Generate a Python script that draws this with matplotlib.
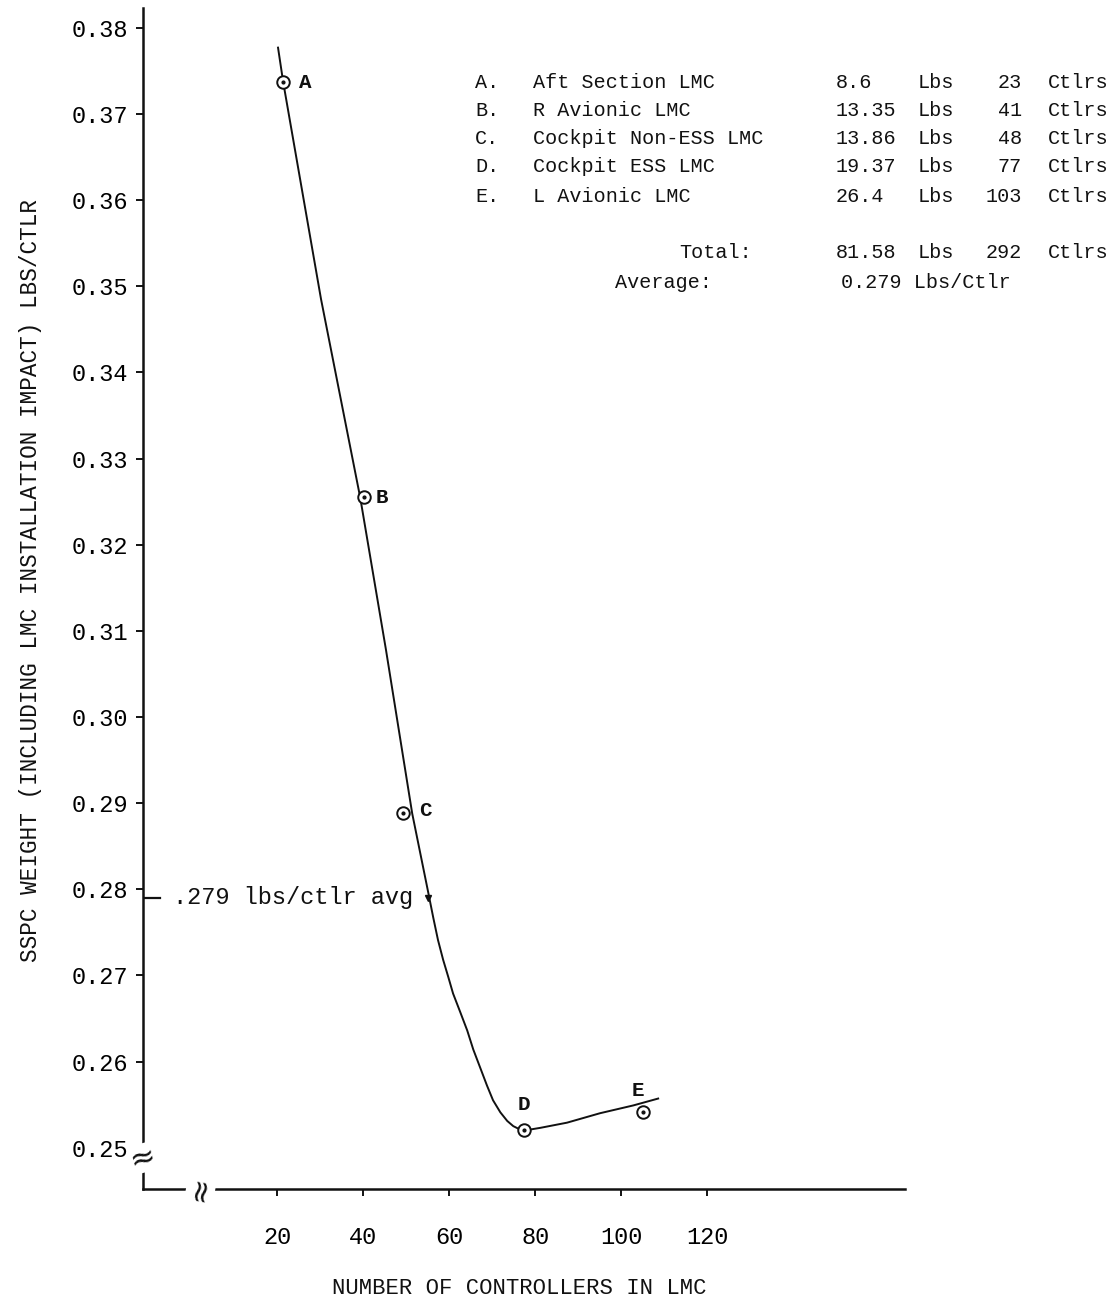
import numpy as np
import matplotlib.pyplot as plt

# points A-E as plotted on the chart
pt_labels = ["A", "B", "C", "D", "E"]
pt_x = [21.4, 40.2, 49.3, 77.4, 105.1]
pt_y = [0.3737, 0.3255, 0.2888, 0.2521, 0.2541]

# hand drawn curve through the points
curve_x = [20.2, 21.4, 30.2, 39.3, 45.3, 51.4, 55.1, 56.3, 57.4, 58.6, 59.8,
           60.9, 62.6, 64.2, 65.6, 67.2, 68.8, 70.2, 71.9, 73.5, 74.9, 76.5,
           78.8, 81.2, 87.4, 95.1, 102.8, 108.6]
curve_y = [0.3777, 0.3737, 0.3485, 0.3255, 0.3078, 0.2888, 0.2797, 0.2767,
           0.2741, 0.2718, 0.2698, 0.2679, 0.2657, 0.2636, 0.2614, 0.2593,
           0.2572, 0.2555, 0.2541, 0.2531, 0.2525, 0.2521, 0.2521, 0.2523,
           0.2529, 0.2540, 0.2549, 0.2557]

avg_x = 55.1
avg_y = 0.279

# table in the upper right
tbl_letter = ["A.", "B.", "C.", "D.", "E."]
tbl_name = ["Aft Section LMC", "R Avionic LMC", "Cockpit Non-ESS LMC",
            "Cockpit ESS LMC", "L Avionic LMC"]
tbl_lbs = ["8.6", "13.35", "13.86", "19.37", "26.4"]
tbl_ctlrs = ["23", "41", "48", "77", "103"]
total_lbs = "81.58"
total_ctlrs = "292"
average = "0.279 Lbs/Ctlr"

yticks = [0.25, 0.26, 0.27, 0.28, 0.29, 0.30, 0.31, 0.32, 0.33, 0.34, 0.35,
          0.36, 0.37, 0.38]
xticks = [20, 40, 60, 80, 100, 120]

FONT = "Liberation Mono"
W, H = 1120, 1298

fig = plt.figure(figsize=(W / 100, H / 100), dpi=100)
ax = fig.add_axes([143 / W, 109 / H, (905 - 143) / W, (1290 - 109) / H])

ax.set_xlim(-11.2, 166)
ax.set_ylim(0.2452, 0.3823)

for s in ["top", "right"]:
    ax.spines[s].set_visible(False)
for s in ["left", "bottom"]:
    ax.spines[s].set_linewidth(1.8)
    ax.spines[s].set_color("#111111")

ax.set_yticks(yticks)
ax.set_yticklabels(["%.2f" % v for v in yticks], fontfamily=FONT, fontsize=17)
ax.set_xticks(xticks)
ax.set_xticklabels([str(v) for v in xticks], fontfamily=FONT, fontsize=17)
ax.tick_params(axis="y", direction="out", length=5, width=1.3, pad=6)
ax.tick_params(axis="x", direction="out", length=5, width=1.3, pad=22)

# curve and points
ax.plot(curve_x, curve_y, color="#111111", lw=1.4)
ax.plot(pt_x, pt_y, "o", ms=9, mfc="white", mec="#111111", mew=1.4)
ax.plot(pt_x, pt_y, ".", ms=4, color="#111111")

offsets = {"A": (22, 0), "B": (18, 0), "C": (22, 3), "D": (0, 25), "E": (-5, 22)}
for lab, x, y in zip(pt_labels, pt_x, pt_y):
    dx, dy = offsets[lab]
    ax.annotate(lab, (x, y), xytext=(dx, dy), textcoords="offset pixels",
                ha="center", va="center", fontfamily=FONT, fontsize=15,
                fontweight="bold", color="#111111")

# average marker
ax.plot([avg_x], [avg_y], marker="v", ms=5, color="#111111")
ax.plot([-11.2, -7.3], [avg_y, avg_y], color="#111111", lw=1.6)
ax.text(-4.2, avg_y, ".279 lbs/ctlr avg", ha="left", va="center",
        fontfamily=FONT, fontsize=17, color="#111111")

# axis breaks
ax.text(0, 0.2488, "\u2248", transform=ax.get_yaxis_transform(), ha="center",
        va="center", fontsize=22, rotation=15, color="#111111",
        bbox=dict(fc="white", ec="none", pad=0))
ax.text(2.2, 0, "\u2248", transform=ax.get_xaxis_transform(), ha="center",
        va="center", fontsize=22, rotation=80, color="#111111",
        bbox=dict(fc="white", ec="none", pad=0))

fig.text(519 / W, 1 - 1294 / H, "NUMBER OF CONTROLLERS IN LMC",
         ha="center", va="baseline", fontfamily=FONT, fontsize=16,
         color="#111111")
fig.text(31 / W, 1 - 580 / H,
         "SSPC WEIGHT (INCLUDING LMC INSTALLATION IMPACT) LBS/CTLR",
         rotation=90, ha="center", va="center", fontfamily=FONT, fontsize=16.3,
         color="#111111")


def ftext(px, py, s, ha="left"):
    fig.text(px / W, 1 - py / H, s, ha=ha, va="center", fontfamily=FONT,
             fontsize=14.5, color="#111111")


row_y = [83, 111, 139, 167, 196]
for i, ry in enumerate(row_y):
    ftext(475, ry, tbl_letter[i])
    ftext(533, ry, tbl_name[i])
    ftext(836, ry, tbl_lbs[i])
    ftext(918, ry, "Lbs")
    ftext(1022, ry, tbl_ctlrs[i], ha="right")
    ftext(1048, ry, "Ctlrs")

ftext(752, 252, "Total:", ha="right")
ftext(836, 252, total_lbs)
ftext(918, 252, "Lbs")
ftext(1022, 252, total_ctlrs, ha="right")
ftext(1048, 252, "Ctlrs")
ftext(712, 283, "Average:", ha="right")
ftext(841, 283, average)

fig.savefig("out.png", dpi=100, facecolor="white")
